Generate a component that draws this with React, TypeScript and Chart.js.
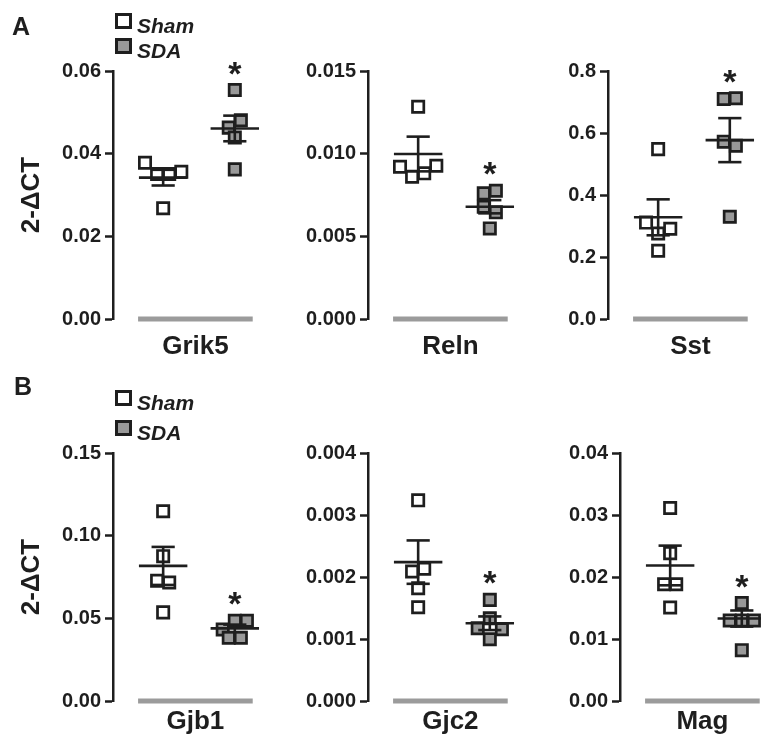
import React, { useEffect, useRef } from 'react';
import { Chart, registerables } from 'chart.js';

Chart.register(...registerables);

const FONT = '"Liberation Sans", Arial, Helvetica, sans-serif';
const INK = '#1e1e1e';
const SDA_FILL = '#999999';
const BASE_GRAY = '#9b9b9b';

// ---------------- data ----------------
const genes = ['Grik5', 'Reln', 'Sst', 'Gjb1', 'Gjc2', 'Mag'];
const groupNames = ['Sham', 'SDA'];

const grik5Sham = [0.0378, 0.0351, 0.0351, 0.0356, 0.0268];
const grik5Sda = [0.0554, 0.0463, 0.0481, 0.0439, 0.0362];
const relnSham = [0.01284, 0.00921, 0.00861, 0.00881, 0.00927];
const relnSda = [0.0076, 0.00776, 0.00679, 0.00645, 0.00548];
const sstSham = [0.548, 0.311, 0.276, 0.291, 0.22];
const sstSda = [0.71, 0.712, 0.572, 0.559, 0.33];
const gjb1Sham = [0.1148, 0.0876, 0.0727, 0.0717, 0.0536];
const gjb1Sda = [0.0433, 0.0485, 0.0485, 0.0383, 0.0383];
const gjc2Sham = [0.003236, 0.002089, 0.002132, 0.00182, 0.001513];
const gjc2Sda = [0.001631, 0.001174, 0.001335, 0.001157, 0.000996];
const magSham = [0.03112, 0.02385, 0.01884, 0.01884, 0.01507];
const magSda = [0.0158, 0.013, 0.013, 0.013, 0.0082];

const shamMean = [0.0342, 0.00998, 0.328, 0.0817, 0.00224, 0.02186];
const shamSem = [0.0019, 0.00105, 0.058, 0.0115, 0.00035, 0.0032];
const sdaMean = [0.0461, 0.00679, 0.577, 0.0439, 0.001254, 0.0133];
const sdaSem = [0.0031, 0.0004, 0.071, 0.0023, 0.00011, 0.0013];
const significance = ['*', '*', '*', '*', '*', '*'];

const yMax = [0.06, 0.015, 0.8, 0.15, 0.004, 0.04];
const yTickValues = [
  [0, 0.02, 0.04, 0.06],
  [0, 0.005, 0.01, 0.015],
  [0, 0.2, 0.4, 0.6, 0.8],
  [0, 0.05, 0.1, 0.15],
  [0, 0.001, 0.002, 0.003, 0.004],
  [0, 0.01, 0.02, 0.03, 0.04],
];
const yTickLabels = [
  ['0.00', '0.02', '0.04', '0.06'],
  ['0.000', '0.005', '0.010', '0.015'],
  ['0.0', '0.2', '0.4', '0.6', '0.8'],
  ['0.00', '0.05', '0.10', '0.15'],
  ['0.000', '0.001', '0.002', '0.003', '0.004'],
  ['0.00', '0.01', '0.02', '0.03', '0.04'],
];
const yTitle = '2-ΔCT';
const panelLetters = ['A', 'B'];

const seriesSham = [grik5Sham, relnSham, sstSham, gjb1Sham, gjc2Sham, magSham];
const seriesSda = [grik5Sda, relnSda, sstSda, gjb1Sda, gjc2Sda, magSda];

// ---------------- layout (pixels) ----------------
const PLOT_H = 248;
const CAT_PX = 77; // px between the two group columns
const X_MIN = -0.7;
const X_MAX = 1.3;
const PLOT_W = (X_MAX - X_MIN) * CAT_PX;
const PAD_TOP = 40;
const PAD_BOTTOM = 50;
const ROW_TOP = [71, 453];
const AXIS_X = [
  [113, 368, 608],
  [113, 368, 620],
];
const LABEL_OFFSET = [35, 28];
const MARK = 13; // marker outer size in px
const SWARM_STEP = 13;

function swarm(values: number[], max: number): number[] {
  const px = values.map((v) => (v / max) * PLOT_H);
  const idx = values.map((_, i) => i).sort((a, b) => px[b] - px[a]);
  const offs = new Array(values.length).fill(0);
  let row: number[] = [];
  let start = 0;
  const flush = () => {
    const sorted = row.slice().sort((a, b) => a - b);
    sorted.forEach((i, k) => {
      offs[i] = ((k - (sorted.length - 1) / 2) * SWARM_STEP) / CAT_PX;
    });
    row = [];
  };
  idx.forEach((i) => {
    if (row.length && start - px[i] >= MARK) flush();
    if (!row.length) start = px[i];
    row.push(i);
  });
  if (row.length) flush();
  return offs;
}

function Panel({ gi }: { gi: number }) {
  const ref = useRef<HTMLCanvasElement | null>(null);
  const rowIdx = Math.floor(gi / 3);
  const col = gi % 3;
  const axisX = AXIS_X[rowIdx][col];
  const axisW = col === 0 ? 113 : 80;
  const width = Math.round(axisW + PLOT_W);
  const height = PLOT_H + PAD_TOP + PAD_BOTTOM;
  const left = axisX - axisW;
  const top = ROW_TOP[rowIdx] - PAD_TOP;

  useEffect(() => {
    const canvas = ref.current;
    if (!canvas) return;
    const max = yMax[gi];
    const groups = [
      { vals: seriesSham[gi], mean: shamMean[gi], sem: shamSem[gi], fill: '#ffffff', c: 0 },
      { vals: seriesSda[gi], mean: sdaMean[gi], sem: sdaSem[gi], fill: SDA_FILL, c: 1 },
    ];
    const seg = (a: any, b: any, color = INK, w = 2.6, order = 0) => ({
      data: [a, b],
      showLine: true,
      borderColor: color,
      borderWidth: w,
      borderCapStyle: 'butt',
      pointRadius: 0,
      pointHoverRadius: 0,
      order,
      clip: false,
    });
    const datasets: any[] = [];
    datasets.push(seg({ x: -0.35, y: 0 }, { x: 1.25, y: 0 }, BASE_GRAY, 5, 5));
    groups.forEach((g, k) => {
      const offs = swarm(g.vals, max);
      datasets.push({
        label: groupNames[k],
        data: g.vals.map((v, i) => ({ x: g.c + offs[i], y: v })),
        pointStyle: 'rect',
        pointRadius: 8,
        pointHoverRadius: 8,
        backgroundColor: g.fill,
        borderColor: INK,
        borderWidth: 2.7,
        pointBackgroundColor: g.fill,
        pointBorderColor: INK,
        pointBorderWidth: 2.7,
        order: 2,
        clip: false,
      });
      const hi = g.mean + g.sem;
      const lo = g.mean - g.sem;
      datasets.push(seg({ x: g.c - 0.338, y: g.mean }, { x: g.c + 0.338, y: g.mean }));
      datasets.push(seg({ x: g.c, y: lo }, { x: g.c, y: hi }));
      datasets.push(seg({ x: g.c - 0.162, y: hi }, { x: g.c + 0.162, y: hi }));
      datasets.push(seg({ x: g.c - 0.162, y: lo }, { x: g.c + 0.162, y: lo }));
    });

    const decor = {
      id: 'decor',
      afterDatasetsDraw(chart: any) {
        const { ctx, scales } = chart;
        const xs = scales.x;
        const ys = scales.y;
        ctx.save();
        ctx.fillStyle = INK;
        ctx.textAlign = 'center';
        if (significance[gi]) {
          ctx.font = `bold 34px ${FONT}`;
          const m = ctx.measureText(significance[gi]);
          const a = m.actualBoundingBoxAscent;
          const d = m.actualBoundingBoxDescent;
          const topPt = Math.max(...seriesSda[gi]);
          const target = ys.getPixelForValue(topPt) - 22;
          ctx.textBaseline = 'alphabetic';
          ctx.fillText(significance[gi], xs.getPixelForValue(1), target + (a - d) / 2);
        }
        ctx.font = `bold 26px ${FONT}`;
        ctx.textBaseline = 'alphabetic';
        ctx.fillText(genes[gi], xs.getPixelForValue(0.45), ys.bottom + LABEL_OFFSET[rowIdx]);
        ctx.restore();
      },
    };

    const chart = new Chart(canvas, {
      type: 'scatter',
      data: { datasets },
      options: {
        animation: false,
        responsive: false,
        maintainAspectRatio: false,
        devicePixelRatio: 1,
        events: [],
        layout: { padding: { top: PAD_TOP, bottom: PAD_BOTTOM, left: 0, right: 0 } },
        plugins: { legend: { display: false }, tooltip: { enabled: false } },
        scales: {
          x: { type: 'linear', min: X_MIN, max: X_MAX, display: false },
          y: {
            type: 'linear',
            min: 0,
            max,
            afterFit: (s: any) => {
              s.width = axisW;
            },
            afterBuildTicks: (s: any) => {
              s.ticks = yTickValues[gi].map((v) => ({ value: v }));
            },
            ticks: {
              autoSkip: false,
              padding: 4,
              color: INK,
              font: { family: FONT, size: 20, weight: 'bold' },
              callback: (_v: any, i: number) => yTickLabels[gi][i],
            },
            grid: {
              drawOnChartArea: false,
              drawTicks: true,
              tickLength: 8,
              tickWidth: 2.5,
              tickColor: INK,
            },
            border: { display: true, color: INK, width: 2.5 },
            title: {
              display: col === 0,
              text: yTitle,
              color: INK,
              font: { family: FONT, size: 26, weight: 'bold' },
              padding: { top: 16.4, bottom: 0 },
            },
          },
        },
      },
      plugins: [decor],
    } as any);
    return () => chart.destroy();
  }, [gi]);

  return (
    <canvas
      ref={ref}
      width={width}
      height={height}
      style={{ position: 'absolute', left, top, width, height }}
    />
  );
}

function Legend({ top, gap }: { top: number; gap: number }) {
  const box = (fill: string, t: number) => (
    <div
      style={{
        position: 'absolute',
        left: 115,
        top: t,
        width: 17,
        height: 16,
        boxSizing: 'border-box',
        border: `3px solid ${INK}`,
        background: fill,
      }}
    />
  );
  const txt = (s: string, t: number) => (
    <div
      style={{
        position: 'absolute',
        left: 137,
        top: t + 1,
        height: 16,
        lineHeight: '16px',
        font: `italic bold 21px ${FONT}`,
        color: INK,
        whiteSpace: 'nowrap',
      }}
    >
      {s}
    </div>
  );
  return (
    <>
      {box('#ffffff', top)}
      {txt(groupNames[0], top)}
      {box(SDA_FILL, top + gap)}
      {txt(groupNames[1], top + gap)}
    </>
  );
}

export default function App() {
  return (
    <div
      style={{
        position: 'fixed',
        left: 0,
        top: 0,
        width: 761,
        height: 742,
        overflow: 'hidden',
        background: '#ffffff',
      }}
    >
      {genes.map((g, i) => (
        <Panel key={g} gi={i} />
      ))}
      <div style={{ position: 'absolute', left: 12, top: 14, font: `bold 25px ${FONT}`, lineHeight: '25px', color: INK }}>
        {panelLetters[0]}
      </div>
      <div style={{ position: 'absolute', left: 14, top: 374, font: `bold 25px ${FONT}`, lineHeight: '25px', color: INK }}>
        {panelLetters[1]}
      </div>
      <Legend top={13} gap={25} />
      <Legend top={390} gap={30} />
    </div>
  );
}
